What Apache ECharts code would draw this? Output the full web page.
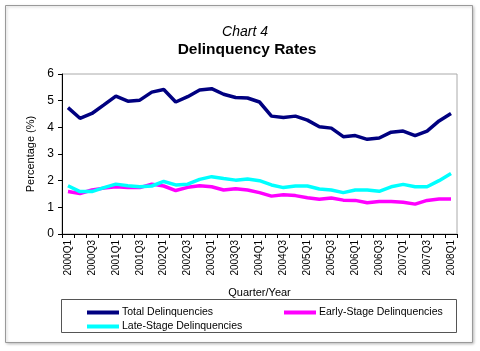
<!DOCTYPE html>
<html>
<head>
<meta charset="utf-8">
<script src="https://cdn.jsdelivr.net/npm/echarts@6/dist/echarts.min.js"></script>
<style>
  html, body { margin: 0; padding: 0; background: #fff; }
  #main { width: 480px; height: 351px; }
</style>
</head>
<body>
<div id="main"></div>
<script>
(function () {

    var quarters = [];
    for (var y = 2000; y <= 2008; y++) {
        for (var q = 1; q <= 4; q++) {
            if (y === 2008 && q > 1) break;
            quarters.push(y + 'Q' + q);
        }
    }

    var totalDelinq = [4.74, 4.34, 4.52, 4.84, 5.17, 4.98, 5.02, 5.32, 5.42, 4.95, 5.15, 5.4, 5.45,
        5.24, 5.12, 5.1, 4.95, 4.42, 4.37, 4.42, 4.27, 4.02, 3.97, 3.65, 3.69, 3.55,
        3.6, 3.82, 3.86, 3.69, 3.86, 4.24, 4.52];
    var earlyDelinq = [1.59, 1.52, 1.65, 1.72, 1.77, 1.74, 1.74, 1.87, 1.8, 1.63, 1.75, 1.81, 1.77,
        1.65, 1.7, 1.65, 1.55, 1.42, 1.47, 1.44, 1.36, 1.3, 1.35, 1.27, 1.26, 1.17,
        1.22, 1.22, 1.19, 1.12, 1.26, 1.31, 1.31];
    var lateDelinq = [1.81, 1.59, 1.59, 1.74, 1.87, 1.81, 1.77, 1.8, 1.97, 1.84, 1.87, 2.05, 2.15,
        2.08, 2.02, 2.06, 2.0, 1.84, 1.74, 1.8, 1.8, 1.69, 1.65, 1.55, 1.65, 1.65,
        1.6, 1.77, 1.86, 1.77, 1.77, 2.0, 2.27];

    var font = "'Liberation Sans', Arial, sans-serif";
    var legendText = { fontFamily: font, fontSize: 10.5, color: '#000', padding: [0, 0, 0, -2] };

    var myChart = echarts.init(document.getElementById('main'));
    myChart.setOption({
        animation: false,
        title: [
            {
                text: 'Chart 4',
                left: 240, top: 20, textAlign: 'center',
                textStyle: { fontFamily: font, fontStyle: 'italic', fontWeight: 'normal', fontSize: 14, color: '#000' }
            },
            {
                text: 'Delinquency Rates',
                left: 242, top: 37, textAlign: 'center',
                textStyle: { fontFamily: font, fontWeight: 'bold', fontSize: 15.5, color: '#000' }
            }
        ],
        graphic: [
            { // 外框
                type: 'rect', z: -1,
                shape: { x: 5.5, y: 5.5, width: 467, height: 337 },
                style: { fill: '#fff', stroke: '#999', lineWidth: 1, shadowBlur: 3, shadowColor: 'rgba(0,0,0,0.25)', shadowOffsetX: 1, shadowOffsetY: 1 }
            },
            { // 图例框
                type: 'rect', z: 0,
                shape: { x: 61.5, y: 299.5, width: 395, height: 33 },
                style: { fill: 'none', stroke: '#555', lineWidth: 1 }
            }
        ],
        legend: [
            {
                data: ['Total Delinquencies'],
                left: 82, top: 302,
                itemWidth: 32, itemHeight: 4, icon: 'rect',
                textStyle: legendText
            },
            {
                data: ['Early-Stage Delinquencies'],
                left: 279, top: 302,
                itemWidth: 32, itemHeight: 4, icon: 'rect',
                textStyle: legendText
            },
            {
                data: ['Late-Stage Delinquencies'],
                left: 82, top: 316,
                itemWidth: 32, itemHeight: 4, icon: 'rect',
                textStyle: legendText
            }
        ],
        grid: {
            left: 62, right: 23, top: 74, bottom: 117,
            show: true, borderColor: '#aaa', borderWidth: 1
        },
        xAxis: {
            type: 'category',
            data: quarters,
            boundaryGap: true,
            name: 'Quarter/Year',
            nameLocation: 'middle',
            nameGap: 53,
            nameTextStyle: { fontFamily: font, fontSize: 11, color: '#000' },
            axisLine: { lineStyle: { color: '#000', width: 1 } },
            axisTick: { show: true, interval: 0, length: 4, lineStyle: { color: '#000' } },
            axisLabel: {
                interval: 1, rotate: 90, margin: 6,
                fontFamily: font, fontSize: 10, color: '#000'
            },
            splitLine: { show: false }
        },
        yAxis: {
            type: 'value',
            min: 0, max: 6, interval: 1,
            name: 'Percentage (%)',
            nameLocation: 'middle',
            nameGap: 25,
            nameTextStyle: { fontFamily: font, fontSize: 11, color: '#000' },
            axisLine: { show: true, lineStyle: { color: '#000', width: 1 } },
            axisTick: { show: true, length: 4, lineStyle: { color: '#000' } },
            axisLabel: { fontFamily: font, fontSize: 12, color: '#000', margin: 8 },
            splitLine: { show: false }
        },
        series: [
            {
                name: 'Total Delinquencies', type: 'line', data: totalDelinq,
                symbol: 'none', lineStyle: { color: '#000080', width: 3.5 }, itemStyle: { color: '#000080' }
            },
            {
                name: 'Early-Stage Delinquencies', type: 'line', data: earlyDelinq,
                symbol: 'none', lineStyle: { color: '#ff00ff', width: 3.5 }, itemStyle: { color: '#ff00ff' }
            },
            {
                name: 'Late-Stage Delinquencies', type: 'line', data: lateDelinq,
                symbol: 'none', lineStyle: { color: '#00ffff', width: 3.5 }, itemStyle: { color: '#00ffff' }
            }
        ]
    });

})();
</script>
</body>
</html>
